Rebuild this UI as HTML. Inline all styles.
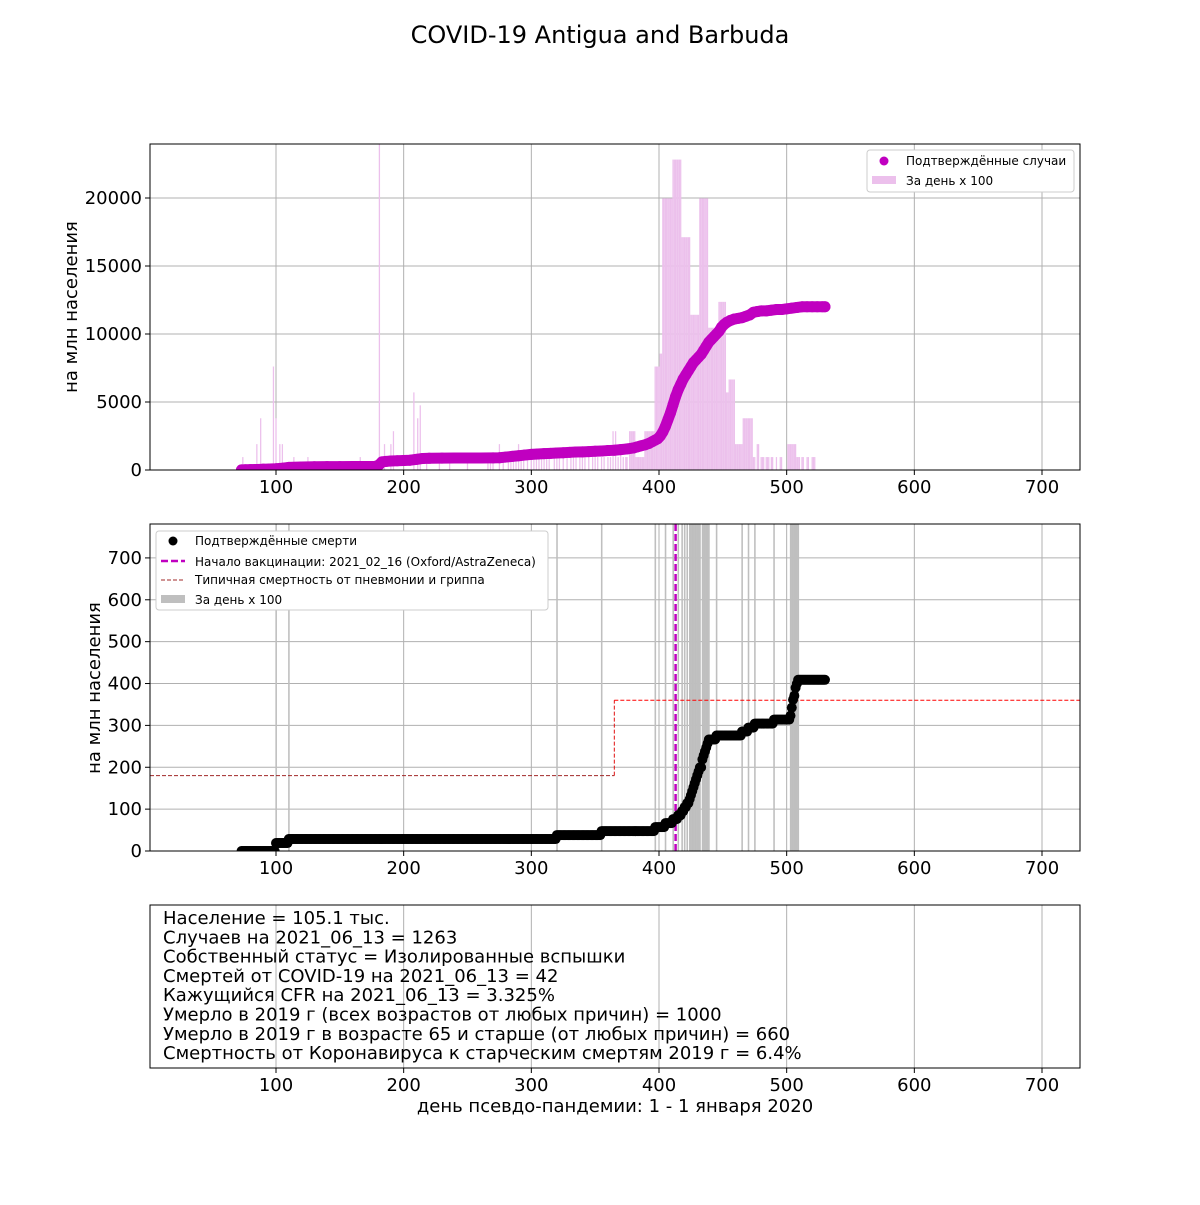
<!DOCTYPE html>
<html><head><meta charset="utf-8"><style>
body{margin:0;background:#fff}
svg{font-family:"DejaVu Sans","Liberation Sans",sans-serif}
</style></head><body>
<svg id="c" width="1200" height="1200" xmlns="http://www.w3.org/2000/svg"></svg>
<script>
// ---- data ----
const xTicks=[100,200,300,400,500,600,700];
const casesYTicks=[0,5000,10000,15000,20000];
const deathsYTicks=[0,100,200,300,400,500,600,700];
const perMillion=9.51; // per one person (population 105.1k)
// daily case runs: start day, length, cases
const caseRunStart=[74,85,88,98,100,103,105,114,125,166,181,185,190,192,208,211,213,218,228,236,250,266,268,270,275,278,282,284,286,288,290,292,294,297,300,302,304,306,308,310,312,314,318,320,322,325,328,331,333,335,338,340,342,345,348,350,352,355,357,360,362,364,366,368,370,372,374,377,382,389,397,401,403,411,418,425,432,439,447,453,455,460,466,474,477,480,484,488,492,495,501,508,512,516,520];
const caseRunLen=[1,1,1,1,1,1,1,1,1,1,1,1,1,1,1,1,1,1,1,1,1,1,1,1,1,1,1,1,1,1,1,1,1,1,1,1,1,1,1,1,1,1,1,1,1,1,1,1,1,1,1,1,1,1,1,1,1,1,1,1,1,1,1,1,1,1,2,5,7,8,4,2,8,7,7,7,7,8,6,2,5,6,8,2,2,3,3,2,1,2,7,3,2,2,3];
const caseRunValue=[1,2,4,8,4,2,2,1,1,1,30,2,2,3,6,4,5,1,1,1,1,1,1,1,2,1,1,1,1,1,2,1,1,1,1,1,1,1,1,1,1,1,1,1,1,1,1,1,1,1,1,1,1,1,1,1,1,1,1,1,1,3,3,1,2,1,1,3,1,3,8,9,21,24,18,12,21,11,13,6,7,2,4,1,2,1,1,1,1,1,2,1,1,1,1];
// cumulative cases per million
const caseDays=[73,76,80,85,90,95,100,105,110,120,130,140,150,160,170,178,181,183,186,190,195,200,205,210,215,220,230,240,250,260,270,275,280,285,290,295,300,305,310,315,320,325,330,335,340,345,350,355,360,365,370,375,380,383,386,389,392,395,397,399,401,403,405,407,409,411,413,415,417,419,421,423,425,427,429,431,433,435,437,439,441,443,445,447,449,451,453,456,459,462,465,468,471,474,477,480,484,488,492,496,500,504,508,512,516,520,524,528,530];
const caseCum=[10,15,25,40,60,70,90,130,190,220,240,250,250,255,260,270,400,600,630,660,680,700,720,780,850,860,870,880,880,885,890,900,950,1000,1050,1100,1150,1180,1200,1220,1250,1270,1300,1320,1330,1350,1380,1400,1430,1450,1500,1550,1620,1700,1780,1850,1950,2100,2200,2300,2500,2800,3200,3700,4200,4800,5400,5900,6300,6700,7000,7300,7600,7900,8100,8300,8500,8800,9100,9400,9600,9800,10000,10200,10500,10700,10850,11000,11100,11150,11200,11300,11400,11600,11650,11700,11700,11750,11800,11800,11850,11900,11950,12000,12000,12000,12000,12000,12000];
// daily deaths
const deathDays=[100,110,320,355,397,405,411,415,418,420,422,424,425,426,427,428,429,430,431,432,434,435,436,437,438,439,445,465,470,475,490,503,504,505,506,507,508,509];
const deathCounts=[2,1,1,1,1,1,1,1,1,1,1,1,1,1,1,1,1,1,1,1,2,1,1,1,1,1,1,1,1,1,1,1,2,2,1,2,1,1];
const deathStart=73, deathEnd=530;
const typicalDeaths=[180,360];
const vaccinationDay=413;
const infoLines=["Население = 105.1 тыс.","Случаев на 2021_06_13 = 1263","Собственный статус = Изолированные вспышки","Смертей от COVID-19 на 2021_06_13 = 42","Кажущийся CFR на 2021_06_13 = 3.325%","Умерло в 2019 г (всех возрастов от любых причин) = 1000","Умерло в 2019 г в возрасте 65 и старше (от любых причин) = 660","Смертность от Коронавируса к старческим смертям 2019 г = 6.4%"];

// ---- drawing ----
const S=document.getElementById('c');const NS='http://www.w3.org/2000/svg';
function el(t,a,p){const e=document.createElementNS(NS,t);for(const k in a)e.setAttribute(k,a[k]);(p||S).appendChild(e);return e;}
const L=150,R=1080;
const xs=d=>276+(d-100)*(766/600);
const P1={t:144,b:470,ymax:23970}, P2={t:524,b:851,ymax:781}, P3={t:905,b:1068};
const ys1=v=>P1.b-(v/P1.ymax)*(P1.b-P1.t);
const ys2=v=>P2.b-(v/P2.ymax)*(P2.b-P2.t);
const bw=766/600;

el('text',{x:600,y:43,'font-size':24,'text-anchor':'middle',}).textContent='COVID-19 Antigua and Barbuda';

function frame(P,yt,ysf,name){
  const g=el('g',{});
  
  
  xTicks.forEach(t=>el('line',{x1:xs(t),x2:xs(t),y1:P.t,y2:P.b,stroke:'#b0b0b0','stroke-width':1},g));
  if(yt) yt.forEach(t=>el('line',{x1:L,x2:R,y1:ysf(t),y2:ysf(t),stroke:'#b0b0b0','stroke-width':1},g));
}
function axes(P,yt,ysf,name){
  el('rect',{x:L,y:P.t,width:R-L,height:P.b-P.t,fill:'none',stroke:'#000','stroke-width':1,});
  xTicks.forEach(t=>{el('line',{x1:xs(t),x2:xs(t),y1:P.b,y2:P.b+5,stroke:'#000'});
    const tx=el('text',{x:xs(t),y:P.b+23,'font-size':18,'text-anchor':'middle'});tx.textContent=t;
    });
  if(yt) yt.forEach(t=>{el('line',{x1:L-5,x2:L,y1:ysf(t),y2:ysf(t),stroke:'#000'});
    const tx=el('text',{x:L-8,y:ysf(t)+6,'font-size':18,'text-anchor':'end'});tx.textContent=t;
    });
}
const defs=el('defs',{});
const c1=el('clipPath',{id:'cp1'},defs);el('rect',{x:L,y:P1.t,width:R-L,height:P1.b-P1.t},c1);
const c2=el('clipPath',{id:'cp2'},defs);el('rect',{x:L,y:P2.t,width:R-L,height:P2.b-P2.t},c2);

// panel 1
frame(P1,casesYTicks,ys1,'cases');
const g1=el('g',{'clip-path':'url(#cp1)',});
caseRunStart.forEach((s,i)=>{for(let k=0;k<caseRunLen[i];k++){const d=s+k;const v=caseRunValue[i]*perMillion*100;
  const r=el('rect',{x:xs(d)-bw/2,y:ys1(v),width:bw,height:P1.b-ys1(v),fill:'#ecc0ec'},g1);
  }});
el('polyline',{points:caseDays.map((d,i)=>xs(d)+','+ys1(caseCum[i])).join(' '),fill:'none',stroke:'#c000c0','stroke-width':11,'stroke-linejoin':'round','stroke-linecap':'round',},g1);
caseDays.forEach((d,i)=>{const c=el('circle',{cx:xs(d),cy:ys1(caseCum[i]),r:5.5,fill:'#c000c0'},g1);
  });
axes(P1,casesYTicks,ys1,'cases');
const yl1=el('text',{transform:'translate(77,307) rotate(-90)','font-size':18,'text-anchor':'middle',});yl1.textContent='на млн населения';
const lg1=el('g',{});
el('rect',{x:867,y:150,width:207,height:42,fill:'#fff',stroke:'#ccc',rx:3},lg1);
el('circle',{cx:884,cy:161,r:4.5,fill:'#c000c0'},lg1);
el('text',{x:906,y:165,'font-size':12},lg1).textContent='Подтверждённые случаи';
el('rect',{x:872,y:176,width:24,height:8,fill:'#ecc0ec'},lg1);
el('text',{x:906,y:185,'font-size':12},lg1).textContent='За день х 100';

// panel 2
frame(P2,deathsYTicks,ys2,'deaths');
const g2=el('g',{'clip-path':'url(#cp2)',});
deathDays.forEach((d,i)=>{const v=deathCounts[i]*perMillion*100;
  const r=el('rect',{x:xs(d)-bw/2,y:ys2(v),width:bw+0.3,height:P2.b-ys2(v),fill:'#bfbfbf'},g2);
  });
el('line',{x1:L,x2:xs(365),y1:ys2(typicalDeaths[0]),y2:ys2(typicalDeaths[0]),stroke:'#a02828','stroke-width':1,'stroke-dasharray':'4,2',},g2);
el('line',{x1:xs(365),x2:xs(365),y1:ys2(typicalDeaths[0]),y2:ys2(typicalDeaths[1]),stroke:'#e01010','stroke-width':1,'stroke-dasharray':'4,2'},g2);
el('line',{x1:xs(365),x2:R,y1:ys2(typicalDeaths[1]),y2:ys2(typicalDeaths[1]),stroke:'#f00','stroke-width':1,'stroke-dasharray':'4,2',},g2);
el('line',{x1:xs(vaccinationDay),x2:xs(vaccinationDay),y1:P2.t,y2:P2.b,stroke:'#c000c0','stroke-width':2.5,'stroke-dasharray':'7,3',},g2);
let cum=0;
for(let d=deathStart;d<=deathEnd;d++){const j=deathDays.indexOf(d);if(j>=0)cum+=deathCounts[j];
  const c=el('circle',{cx:xs(d),cy:ys2(cum*perMillion),r:5,fill:'#000'},g2);
  }
axes(P2,deathsYTicks,ys2,'deaths');
const yl2=el('text',{transform:'translate(100,688) rotate(-90)','font-size':18,'text-anchor':'middle',});yl2.textContent='на млн населения';
const lg2=el('g',{});
el('rect',{x:156,y:531,width:392,height:79,fill:'#fff',stroke:'#ccc',rx:3},lg2);
el('circle',{cx:173,cy:541,r:4.5,fill:'#000'},lg2);
el('text',{x:195,y:545,'font-size':12},lg2).textContent='Подтверждённые смерти';
el('line',{x1:161,x2:185,y1:561,y2:561,stroke:'#c000c0','stroke-width':2.5,'stroke-dasharray':'7,3'},lg2);
el('text',{x:195,y:566,'font-size':12},lg2).textContent='Начало вакцинации: 2021_02_16 (Oxford/AstraZeneca)';
el('line',{x1:161,x2:185,y1:580,y2:580,stroke:'#a02828','stroke-width':1,'stroke-dasharray':'4,2'},lg2);
el('text',{x:195,y:584,'font-size':12},lg2).textContent='Типичная смертность от пневмонии и гриппа';
el('rect',{x:161,y:595,width:24,height:8,fill:'#bfbfbf'},lg2);
el('text',{x:195,y:604,'font-size':12},lg2).textContent='За день х 100';

// panel 3
frame(P3,null,null,'info');
axes(P3,null,null,'info');
infoLines.forEach((s,i)=>{const t=el('text',{x:163,y:924+i*19.3,'font-size':18});t.textContent=s;
  });
el('text',{x:615,y:1112,'font-size':18,'text-anchor':'middle',}).textContent='день псевдо-пандемии: 1 - 1 января 2020';
</script>
</body></html>
